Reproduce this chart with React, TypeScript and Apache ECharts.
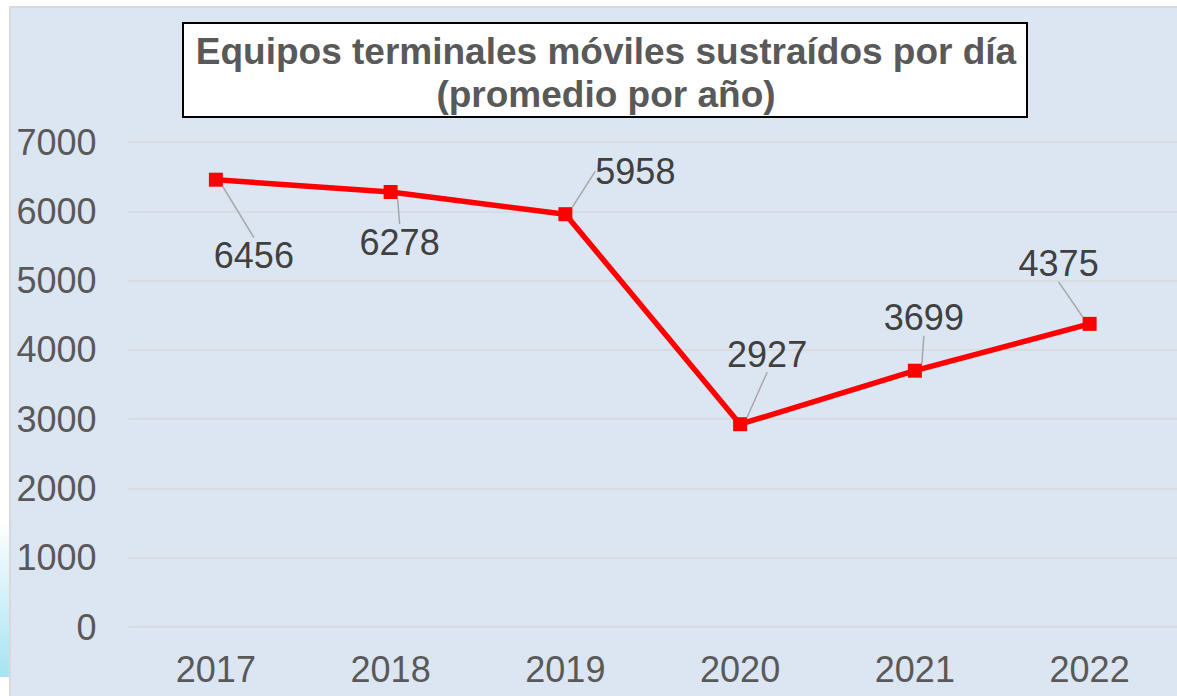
import React, { useEffect, useRef } from "react";
import * as echarts from "echarts";

const titleLines = ["Equipos terminales móviles sustraídos por día", "(promedio por año)"];
const years = ["2017", "2018", "2019", "2020", "2021", "2022"];
const values = [6456, 6278, 5958, 2927, 3699, 4375];
const yTicks = [0, 1000, 2000, 3000, 4000, 5000, 6000, 7000];
// label offsets (label centre relative to the point)
const labelOffsets: [number, number][] = [
  [38, 76],
  [9, 50],
  [70, -43],
  [27, -70],
  [9, -53],
  [-31, -60],
];

export default function App() {
  const ref = useRef<HTMLDivElement>(null);
  useEffect(() => {
    if (!ref.current) return;
    const chart = echarts.init(ref.current, null, { renderer: "svg" });
    chart.setOption({
      animation: false,
      backgroundColor: "#ffffff",
      textStyle: { fontFamily: "Liberation Sans, Arial, sans-serif" },
      graphic: [
        {
          type: "rect",
          z: -10,
          silent: true,
          shape: { x: 0, y: 520, width: 10, height: 157 },
          style: {
            fill: new echarts.graphic.LinearGradient(0, 0, 0, 1, [
              { offset: 0, color: "#ffffff" },
              { offset: 1, color: "#a6e3f3" },
            ]),
          },
        },
        {
          type: "rect",
          z: -10,
          silent: true,
          shape: { x: 10, y: 7, width: 1180, height: 700 },
          style: { fill: "#dce6f2", stroke: "#d9d9d9", lineWidth: 2 },
        },
        {
          type: "rect",
          z: 10,
          silent: true,
          shape: { x: 183, y: 23, width: 844, height: 94 },
          style: { fill: "#ffffff", stroke: "#000000", lineWidth: 2 },
        },
        {
          type: "text",
          z: 11,
          silent: true,
          x: 606,
          y: 73,
          style: {
            text: titleLines.join("\n"),
            font: "bold 37px 'Liberation Sans', Arial, sans-serif",
            fill: "#595959",
            align: "center",
            verticalAlign: "middle",
            lineHeight: 43,
          },
        },
      ],
      grid: { left: 128.5, right: -1.5, top: 142, bottom: 69, containLabel: false },
      xAxis: {
        type: "category",
        data: years,
        boundaryGap: true,
        axisLine: { show: false },
        axisTick: { show: false },
        axisLabel: { color: "#595959", fontSize: 36, margin: 24 },
        splitLine: { show: false },
      },
      yAxis: {
        type: "value",
        min: yTicks[0],
        max: yTicks[yTicks.length - 1],
        interval: 1000,
        axisLine: { show: false },
        axisTick: { show: false },
        axisLabel: {
          color: "#595959",
          fontSize: 36,
          margin: 32,
          formatter: (v: number) => String(v),
        },
        splitLine: { lineStyle: { color: "#d9d9d9", width: 1.5 } },
      },
      series: [
        {
          type: "line",
          data: values,
          symbol: "rect",
          symbolSize: 14,
          itemStyle: { color: "#ff0000" },
          lineStyle: { color: "#ff0000", width: 5.5 },
          label: {
            show: true,
            position: "inside",
            color: "#404040",
            fontSize: 36,
          },
          labelLine: {
            show: true,
            lineStyle: { color: "#a6a6a6", width: 1.5 },
          },
          labelLayout: (params: any) => {
            const o = labelOffsets[params.dataIndex] || [0, 0];
            return { dx: o[0], dy: o[1] };
          },
        },
      ],
    });
    return () => chart.dispose();
  }, []);
  return (
    <div
      ref={ref}
      style={{ position: "fixed", left: 0, top: 0, width: 1177, height: 696 }}
    />
  );
}
